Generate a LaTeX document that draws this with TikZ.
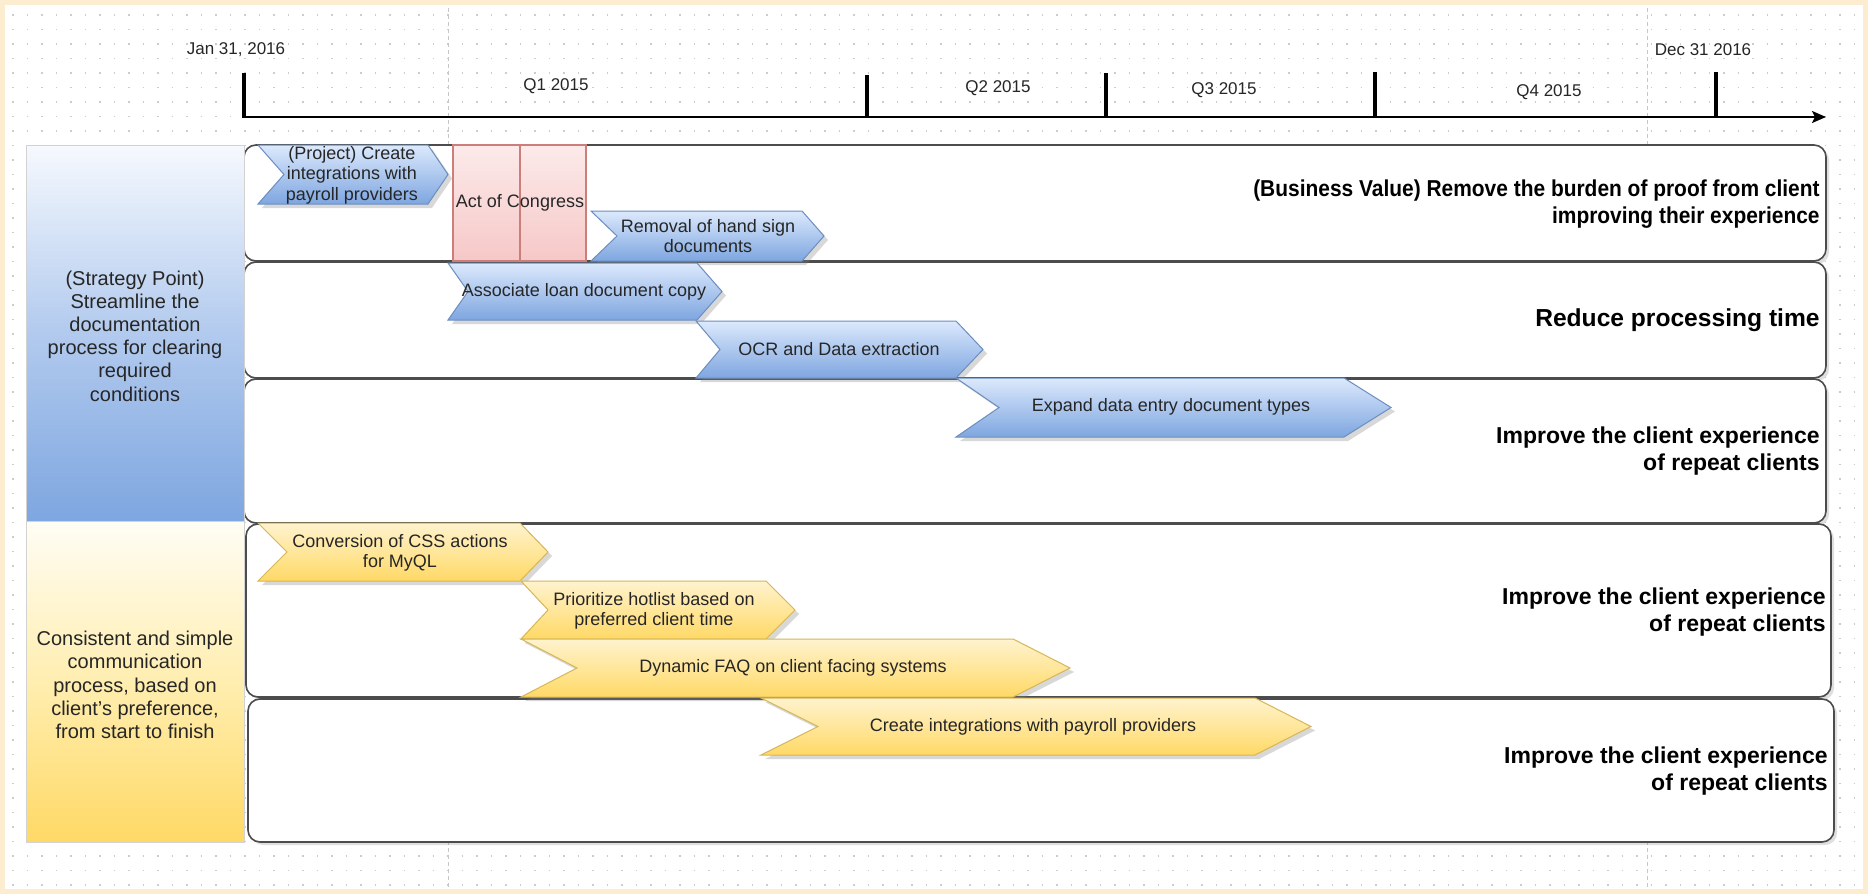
\documentclass[tikz,border=0pt]{standalone}
\usepackage{fontspec}
\setmainfont{Liberation Sans}
\newfontfamily\goalnarrow[FakeStretch=0.91]{Liberation Sans}
\usetikzlibrary{arrows.meta,shadows}

\definecolor{framecream}{RGB}{252,237,208}
\definecolor{blueedge}{RGB}{108,142,191}
\definecolor{bluetop}{RGB}{220,233,252}
\definecolor{bluebot}{RGB}{126,166,224}
\definecolor{yellowedge}{RGB}{214,182,86}
\definecolor{yellowtop}{RGB}{255,243,206}
\definecolor{yellowbot}{RGB}{255,217,102}
\definecolor{rededge}{RGB}{204,126,122}
\definecolor{redtop}{RGB}{252,234,234}
\definecolor{redbot}{RGB}{246,200,199}

\tikzset{
  lane/.style={fill=white,draw=black!70,line width=0.8pt,rounded corners=6pt,
    drop shadow={shadow xshift=1.5pt,shadow yshift=-1.5pt,opacity=0.25}},
  bluechev/.style={top color=bluetop,bottom color=bluebot,draw=blueedge,line width=0.5pt,
    drop shadow={shadow xshift=2pt,shadow yshift=-2pt,opacity=0.3}},
  yellowchev/.style={top color=yellowtop,bottom color=yellowbot,draw=yellowedge,line width=0.5pt,
    drop shadow={shadow xshift=2pt,shadow yshift=-2pt,opacity=0.3}},
  redbar/.style={top color=redtop,bottom color=redbot,draw=rededge,line width=0.6pt},
  chevtext/.style={align=center,font=\fontsize{9}{10.25}\selectfont,text=black!85,inner sep=0pt},
  paneltext/.style={align=center,font=\fontsize{10}{11.6}\selectfont,text=black!85,inner sep=0pt},
  goal/.style={anchor=east,align=right,font=\bfseries\fontsize{11.5}{13.7}\selectfont,inner sep=0pt},
  datetext/.style={font=\fontsize{8.5}{10}\selectfont,text=black!85,inner sep=0pt},
  tick/.style={line width=2pt},
  griddots/.style={draw=gray!40,line width=0.8pt,dash pattern=on 0.8pt off 6.45pt},
  guide/.style={draw=gray!45,line width=0.5pt,dash pattern=on 2pt off 1.5pt}
}

\begin{document}
\begin{tikzpicture}[x=0.5pt,y=-0.5pt]

\useasboundingbox (0,0) rectangle (1868,894);

% frame and dotted grid
\fill[framecream] (0,0) rectangle (1868,894);
\fill[white] (5,5) rectangle (1863,889);
\foreach \y in {15,29.5,...,886}
  \draw[griddots] (12,\y) -- (1862,\y);
\draw[guide] (448,8) -- (448,888);
\draw[guide] (1647,8) -- (1647,888);

% timeline
\coordinate (start) at (244,117);
\coordinate (axisend) at (1826,117);
\draw[line width=1pt,-{Stealth[length=7pt,width=6pt,inset=1.5pt]}] (start) -- (axisend);
\draw[tick] (244,73) -- (244,118);
\draw[tick] (867,75) -- (867,118);
\draw[tick] (1106,73) -- (1106,118);
\draw[tick] (1375,72) -- (1375,118);
\draw[tick] (1716,72) -- (1716,118);

\node[datetext] (jan) at (236,50) {Jan 31, 2016};
\node[datetext] (qone) at (556,86) {Q1 2015};
\node[datetext] (qtwo) at (998,88) {Q2 2015};
\node[datetext] (qthree) at (1224,90) {Q3 2015};
\node[datetext] (qfour) at (1549,92) {Q4 2015};
\node[datetext] (dec) at (1703,50) {Dec 31 2016};

% lanes
\draw[lane] (244,145) rectangle (1826,261);
\draw[lane] (244,262) rectangle (1826,378);
\draw[lane] (244,379) rectangle (1826,523);
\draw[lane] (246,524) rectangle (1831,697);
\draw[lane] (248,699) rectangle (1834,842);

% strategy panels
\shade[top color={rgb,255:red,246;green,249;blue,254},bottom color=bluebot,
  middle color={rgb,255:red,178;green,202;blue,238},draw=gray!35,line width=0.5pt]
  (26,145) rectangle (244,521);
\shade[top color={rgb,255:red,255;green,253;blue,245},bottom color=yellowbot,
  middle color={rgb,255:red,255;green,238;blue,176},draw=gray!35,line width=0.5pt]
  (26,521) rectangle (244,842);
\node[paneltext] (strategy) at (135,336) {(Strategy Point)\\Streamline the\\documentation\\process for clearing\\required\\conditions};
\node[paneltext] (consistent) at (135,685) {Consistent and simple\\communication\\process, based on\\client’s preference,\\from start to finish};

% act of congress
\draw[redbar] (453,145) rectangle (520,261);
\draw[redbar] (520,145) rectangle (586,261);
\node[chevtext] (congress) at (520,203) {Act of Congress};

% blue projects
\draw[bluechev] (258,145) -- (428,145) -- (448,174.5) -- (428,204) -- (258,204) -- (284,174.5) -- cycle;
\node[chevtext] (project) at (352,175) {(Project) Create\\integrations with\\payroll providers};
\draw[bluechev] (591,211) -- (802,211) -- (824,236) -- (802,261) -- (591,261) -- (617,236) -- cycle;
\node[chevtext] (removal) at (708,236) {Removal of hand sign\\documents};
\draw[bluechev] (448,263) -- (697,263) -- (722,291.5) -- (697,320) -- (448,320) -- (468,291.5) -- cycle;
\node[chevtext] (associate) at (584,292) {Associate loan document copy};
\draw[bluechev] (696,321) -- (956,321) -- (983,349.5) -- (956,378) -- (696,378) -- (720,349.5) -- cycle;
\node[chevtext] (ocr) at (839,349) {OCR and Data extraction};
\draw[bluechev] (956,378) -- (1344,378) -- (1391,407.5) -- (1344,437) -- (956,437) -- (999,407.5) -- cycle;
\node[chevtext] (expand) at (1171,407) {Expand data entry document types};

% yellow projects
\draw[yellowchev] (258,523) -- (520,523) -- (548,552) -- (520,581) -- (258,581) -- (287,552) -- cycle;
\node[chevtext] (conversion) at (400,553) {Conversion of CSS actions\\for MyQL};
\draw[yellowchev] (521,581) -- (766,581) -- (795,610) -- (766,639) -- (521,639) -- (548,610) -- cycle;
\node[chevtext] (hotlist) at (654,611) {Prioritize hotlist based on\\preferred client time};
\draw[yellowchev] (521,639) -- (1013,639) -- (1070,668) -- (1013,697) -- (521,697) -- (577,668) -- cycle;
\node[chevtext] (faq) at (793,668) {Dynamic FAQ on client facing systems};
\draw[yellowchev] (761,698) -- (1255,698) -- (1311,726.5) -- (1255,755) -- (761,755) -- (818,726.5) -- cycle;
\node[chevtext] (payroll) at (1033,727) {Create integrations with payroll providers};

% business values
\node[goal,font=\goalnarrow\bfseries\fontsize{11.5}{13.7}\selectfont] (burden) at (1820,204) {(Business Value) Remove the burden of proof from client\\improving their experience};
\node[goal,font=\bfseries\fontsize{12.3}{14}\selectfont] (reduce) at (1820,320) {Reduce processing time};
\node[goal] (repeatA) at (1820,451) {Improve the client experience\\of repeat clients};
\node[goal] (repeatB) at (1826,612) {Improve the client experience\\of repeat clients};
\node[goal] (repeatC) at (1828,771) {Improve the client experience\\of repeat clients};

\end{tikzpicture}
\end{document}
